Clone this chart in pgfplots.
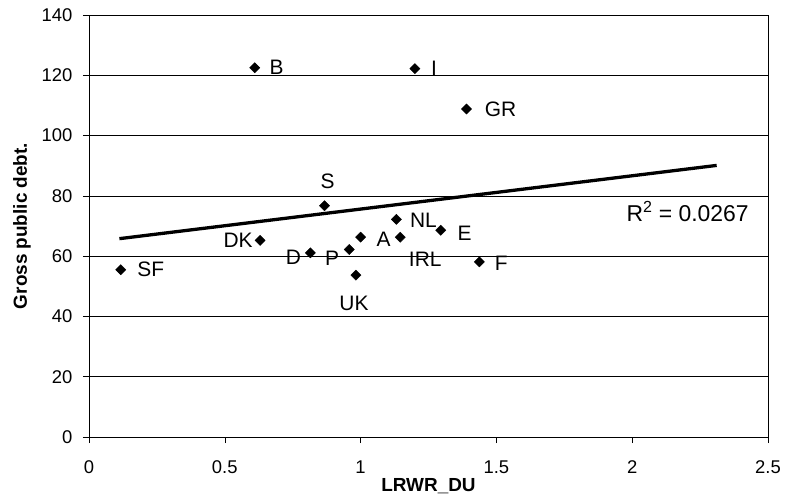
\documentclass[border=0pt]{standalone}
\usepackage{pgfplots}
\pgfplotsset{compat=1.18}
\usepackage{pgfplotstable}
\usepackage{fontspec}
\setmainfont{Liberation Sans}
\pgfplotstableread{
x y lab dx dy
0.117 55.5 SF 30 0
0.610 122.5 B 22 0
1.200 122.2 I 19 0
1.390 108.8 GR 34 0
0.867 76.7 S 3 25
0.630 65.2 DK -22 0
0.815 61.1 D -17 -4
0.958 62.2 P -17 -9
0.983 53.7 UK -2 -28
1.000 66.3 A 23 -2
1.132 72.2 NL 27 -1
1.146 66.3 IRL 25 -22
1.295 68.6 E 24 -3
1.437 58.1 F 22 -1
}\pts
\pgfplotstableread{
x y
0.112 65.8
2.311 90.1
}\trend
\begin{document}
\begin{tikzpicture}
\begin{axis}[
  at={(0,0)}, anchor=south west,
  scale only axis, width=679bp, height=422bp,
  xmin=0, xmax=2.5, ymin=0, ymax=140,
  xtick={0,0.5,...,2.5}, ytick={0,20,...,140},
  /pgf/number format/assume math mode=true,
  ticklabel style={font=\fontsize{18.5}{21}\selectfont},
  xticklabel style={/pgf/number format/fixed, /pgf/number format/precision=1, yshift=-14bp},
  yticklabel style={xshift=-7bp},
  tick align=outside, major tick length=6bp,
  xtick pos=bottom, ytick pos=left,
  ymajorgrids, grid style={black, line width=0.6bp},
  axis line style={black, line width=0.6bp},
  tick style={black, line width=0.6bp},
  xlabel={\bfseries LRWR\_DU},
  ylabel={\bfseries Gross public debt.},
  xlabel shift={-2bp}, ylabel shift={4bp},
  label style={font=\fontsize{19}{22}\selectfont},
  clip=false,
]
\addplot[black, line width=3.3bp] table {\trend};
\addplot[only marks, mark=square*, mark size=3.6bp, mark options={rotate=45}, black,
  point meta=explicit symbolic,
  visualization depends on={\thisrow{dx}\as\dx},
  visualization depends on={\thisrow{dy}\as\dy},
  nodes near coords,
  nodes near coords style={anchor=center, xshift=\dx bp, yshift=\dy bp,
    font=\fontsize{21}{24}\selectfont, inner sep=0pt},
] table[x=x, y=y, meta=lab] {\pts};
\node[font=\fontsize{23}{26}\selectfont, anchor=center] at (axis cs:2.204,74.7) {R\textsuperscript{2} = 0.0267};
\end{axis}
\path[use as bounding box] (-89bp,-63bp) rectangle (697bp,437bp);
\end{tikzpicture}
\end{document}
